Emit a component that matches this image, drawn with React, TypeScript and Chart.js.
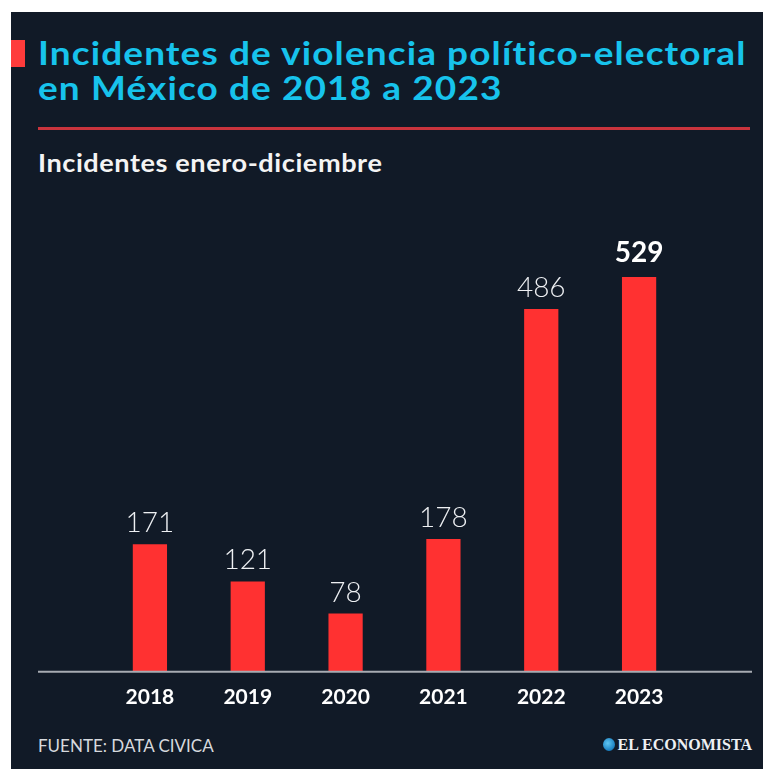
import React, { useEffect, useRef } from "react";
import { Chart, registerables } from "chart.js";

Chart.register(...registerables);

const years = ["2018", "2019", "2020", "2021", "2022", "2023"];
const incidents = [171, 121, 78, 178, 486, 529];
const highlightYear = "2023";

const BG = "#111a27";
const CYAN = "#17c3ec";
const BAR = "#ff3131";

const baselinePlugin = {
  id: "baselinePlugin",
  afterDatasetsDraw(chart: any) {
    const { ctx } = chart;
    const y = chart.scales.y.getPixelForValue(0);
    ctx.save();
    ctx.strokeStyle = "#a7abb2";
    ctx.lineWidth = 2;
    ctx.beginPath();
    ctx.moveTo(38, y);
    ctx.lineTo(752, y);
    ctx.stroke();
    ctx.restore();
  },
};

const valueLabelPlugin = {
  id: "valueLabelPlugin",
  afterDatasetsDraw(chart: any) {
    const { ctx } = chart;
    const meta = chart.getDatasetMeta(0);
    const labels = chart.data.labels as string[];
    const data = chart.data.datasets[0].data as number[];
    ctx.save();
    ctx.textAlign = "center";
    ctx.textBaseline = "alphabetic";
    meta.data.forEach((bar: any, i: number) => {
      const bold = labels[i] === highlightYear;
      ctx.font = bold ? "bold 28px Lato" : "300 28px Lato";
      ctx.fillStyle = bold ? "#ffffff" : "#eef0f3";
      ctx.fillText(String(data[i]), bar.x, bar.y - (bold ? 15 : 12));
    });
    ctx.restore();
  },
};

const titleStyle: React.CSSProperties = {
  position: "absolute",
  left: 38,
  fontSize: 33,
  lineHeight: "33px",
  fontWeight: 700,
  color: CYAN,
  whiteSpace: "nowrap",
  letterSpacing: 1,
  transform: "scaleX(1.12)",
  transformOrigin: "left center",
};

export default function App() {
  const canvasRef = useRef<HTMLCanvasElement>(null);

  useEffect(() => {
    if (!canvasRef.current) return;
    const chart = new Chart(canvasRef.current, {
      type: "bar",
      data: {
        labels: years,
        datasets: [
          {
            data: incidents,
            backgroundColor: BAR,
            borderWidth: 0,
            categoryPercentage: 1,
            barPercentage: 0.35,
          },
        ],
      },
      options: {
        responsive: false,
        animation: false,
        layout: { padding: { left: 101, right: 75, top: 44, bottom: 0 } },
        plugins: { legend: { display: false }, tooltip: { enabled: false } },
        scales: {
          y: { display: false, min: 0, max: 600 },
          x: {
            grid: { display: false, drawTicks: false },
            border: { display: false },
            ticks: {
              color: "#ffffff",
              font: { family: "Lato", weight: "bold", size: 21, lineHeight: 1.2 },
              padding: 13,
            },
          },
        },
      },
      plugins: [baselinePlugin, valueLabelPlugin],
    });
    return () => chart.destroy();
  }, []);

  return (
    <div
      style={{
        position: "absolute",
        left: 0,
        top: 0,
        width: 763,
        height: 769,
        background: "#ffffff",
        overflow: "hidden",
        fontFamily: "Lato, sans-serif",
      }}
    >
      <div style={{ position: "absolute", left: 11, top: 12, right: 0, bottom: 0, background: BG }} />
      <div style={{ position: "absolute", left: 11, top: 40, width: 14, height: 27, background: "#ff3b3b" }} />
      <div style={{ ...titleStyle, top: 36 }}>Incidentes de violencia político-electoral</div>
      <div style={{ ...titleStyle, top: 71 }}>en México de 2018 a 2023</div>
      <div style={{ position: "absolute", left: 38, top: 127, width: 712, height: 3, background: "#c9343d" }} />
      <div
        style={{
          position: "absolute",
          left: 38,
          top: 151,
          fontSize: 24,
          lineHeight: "24px",
          fontWeight: 700,
          color: "#f4f4f4",
          whiteSpace: "nowrap",
          letterSpacing: 0.5,
          transform: "scaleX(1.13)",
          transformOrigin: "left center",
        }}
      >
        Incidentes enero-diciembre
      </div>
      <canvas
        ref={canvasRef}
        width={763}
        height={543}
        style={{ position: "absolute", left: 0, top: 180, width: 763, height: 543 }}
      />
      <div
        style={{
          position: "absolute",
          left: 38,
          top: 737,
          fontSize: 17,
          lineHeight: "17px",
          fontWeight: 400,
          color: "#d6d9de",
          whiteSpace: "nowrap",
        }}
      >
        FUENTE: DATA CIVICA
      </div>
      <div
        style={{
          position: "absolute",
          right: 11,
          top: 736,
          height: 17,
          display: "flex",
          alignItems: "center",
          gap: 3,
          whiteSpace: "nowrap",
        }}
      >
        <div
          style={{
            width: 12,
            height: 13,
            borderRadius: "50%",
            background: "radial-gradient(circle at 40% 40%, #5fc6f2, #1a7fc0 70%)",
          }}
        />
        <span
          style={{
            fontFamily: "'Liberation Serif', serif",
            fontWeight: 700,
            fontSize: 16,
            lineHeight: "17px",
            color: "#eef0f3",
            letterSpacing: 0,
          }}
        >
          EL ECONOMISTA
        </span>
      </div>
    </div>
  );
}
